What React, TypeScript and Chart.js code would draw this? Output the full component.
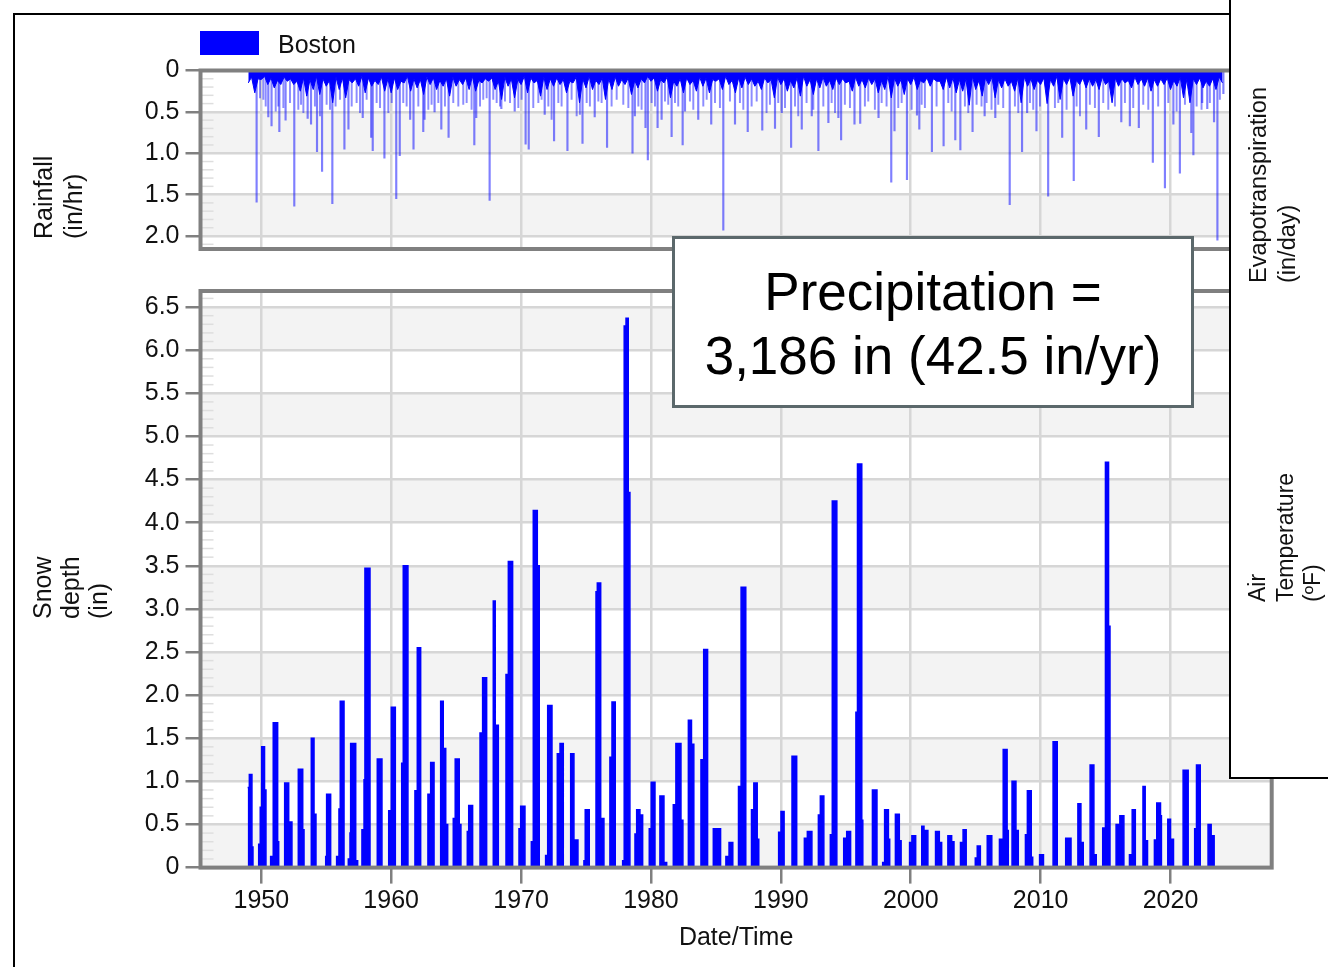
import React, { useEffect, useRef } from 'react';
import { Chart, registerables } from 'chart.js';

Chart.register(...registerables);

const W = 1328;
const H = 967;
const FONT = '"Liberation Sans", Arial, Helvetica, sans-serif';
Chart.defaults.font.family = FONT;

// ---------------- data ----------------
const decadeTicks = [1950, 1960, 1970, 1980, 1990, 2000, 2010, 2020];
const decadeLabels = ['1950', '1960', '1970', '1980', '1990', '2000', '2010', '2020'];
const rainTicks = [0, 0.5, 1.0, 1.5, 2.0];
const rainTickLabels = ['0', '0.5', '1.0', '1.5', '2.0'];
const snowTicks = [0, 0.5, 1, 1.5, 2, 2.5, 3, 3.5, 4, 4.5, 5, 5.5, 6, 6.5];
const snowTickLabels = ['0', '0.5', '1.0', '1.5', '2.0', '2.5', '3.0', '3.5', '4.0', '4.5', '5.0', '5.5', '6.0', '6.5'];
const rainBandStarts = [0.5, 1.5];
const snowBandStarts = [0, 1, 2, 3, 4, 5, 6];

// dense hourly-rainfall mass: deepest dark lines every half year (from 1949.0) ...
const rainMassStart = 1949.0;
const rainMassStep = 0.5;
const rainMassDepth = [
  0.15, 0.27, 0.11, 0.17, 0.21, 0.17, 0.13, 0.17, 0.25, 0.31, 0.23, 0.29, 0.19, 0.39, 0.23, 0.33, 0.15, 0.19, 0.27, 0.19,
  0.17, 0.25, 0.27, 0.23, 0.15, 0.25, 0.21, 0.29, 0.17, 0.23, 0.19, 0.31, 0.19, 0.17, 0.23, 0.25, 0.15, 0.13,
  0.23, 0.35, 0.19, 0.33, 0.17, 0.27, 0.15, 0.31, 0.23, 0.19, 0.17, 0.27, 0.15, 0.39, 0.21, 0.23, 0.17, 0.35,
  0.23, 0.19, 0.17, 0.29, 0.21, 0.15, 0.13, 0.25, 0.15, 0.33, 0.19, 0.27, 0.17, 0.25, 0.19, 0.27, 0.13, 0.23,
  0.17, 0.27, 0.21, 0.17, 0.19, 0.23, 0.15, 0.33, 0.17, 0.25, 0.21, 0.31, 0.19, 0.29, 0.21, 0.19, 0.23, 0.17,
  0.15, 0.25, 0.19, 0.21, 0.17, 0.27, 0.23, 0.33, 0.19, 0.29, 0.17, 0.23, 0.15, 0.19, 0.13, 0.23, 0.21, 0.27,
  0.25, 0.42, 0.23,
  0.31, 0.17, 0.33, 0.21, 0.19, 0.25, 0.39, 0.19, 0.23, 0.17, 0.40, 0.19, 0.35, 0.17, 0.31, 0.17, 0.21, 0.19,
  0.23, 0.17, 0.39, 0.19, 0.15, 0.21, 0.17, 0.19, 0.25, 0.19, 0.17, 0.23, 0.19, 0.33, 0.39, 0.17, 0.21, 0.19,
  0.23, 0.15,
];
// ... and the solid core between them (quarter-year offsets)
const rainCoreDepth = [
  0.08, 0.10, 0.07, 0.09, 0.12, 0.08, 0.10, 0.13, 0.09, 0.11,
  0.07, 0.10, 0.12, 0.08, 0.09, 0.11, 0.10, 0.07, 0.09, 0.12,
  0.08, 0.10, 0.09, 0.13, 0.07, 0.10, 0.11, 0.08, 0.09, 0.12,
  0.10, 0.08, 0.11, 0.09, 0.07, 0.12, 0.10, 0.09, 0.13, 0.08,
  0.10, 0.11, 0.07, 0.09, 0.12, 0.08, 0.10, 0.09, 0.11, 0.13,
  0.08, 0.10, 0.07, 0.12, 0.09, 0.10, 0.08, 0.11, 0.09, 0.12,
  0.10, 0.07, 0.09, 0.11, 0.08, 0.13, 0.10, 0.09, 0.12, 0.08,
  0.09, 0.11, 0.10, 0.07, 0.12, 0.09, 0.08, 0.10, 0.13, 0.09,
  0.11, 0.08, 0.10, 0.12, 0.09, 0.07, 0.11, 0.10, 0.08, 0.12,
  0.09, 0.10, 0.13, 0.08, 0.11, 0.09, 0.10, 0.12, 0.07, 0.09,
  0.11, 0.10, 0.08, 0.12, 0.09, 0.10, 0.13, 0.08, 0.09, 0.11,
  0.10, 0.07, 0.12, 0.09, 0.08, 0.11, 0.10, 0.13, 0.09, 0.08,
  0.10, 0.12, 0.09, 0.11, 0.07, 0.10, 0.08, 0.12, 0.09, 0.10,
  0.11, 0.08, 0.13, 0.09, 0.10, 0.12, 0.08, 0.10, 0.09, 0.11,
  0.10, 0.09, 0.12, 0.08, 0.11, 0.10, 0.09, 0.13, 0.10, 0.08,
];

// medium hourly peaks (light lines below the mass)
const rainMidYear = [
  1949.90, 1950.16, 1950.34, 1951.11, 1951.31, 1951.70, 1952.21, 1952.85, 1953.06, 1953.24, 1954.13, 1954.52,
  1955.03, 1955.29, 1955.72, 1956.06, 1956.96, 1957.34, 1957.60, 1958.11, 1958.88, 1959.14, 1959.78, 1960.04,
  1960.93, 1961.19, 1962.09, 1962.86, 1963.11, 1963.63, 1964.14, 1964.78, 1965.17, 1965.55, 1965.81, 1966.19,
  1966.84, 1967.09, 1967.35,
  1967.86, 1968.12, 1968.38, 1968.76, 1969.15, 1969.79, 1970.04, 1970.94, 1971.33, 1971.58, 1972.10, 1972.35,
  1972.87, 1973.12, 1973.89, 1974.28, 1974.53, 1975.05, 1975.30, 1975.95, 1976.20, 1976.97, 1977.36, 1977.87,
  1978.26, 1979.03, 1979.28, 1980.05, 1980.31, 1981.08, 1981.33, 1981.85, 1982.10, 1983.00, 1983.26, 1984.03,
  1984.29, 1984.93, 1985.31, 1986.08,
  1986.85, 1987.11, 1987.75, 1988.14, 1988.90, 1989.16, 1989.80, 1990.32, 1991.09, 1991.34, 1991.98, 1992.50,
  1993.27, 1993.91, 1994.17, 1994.93, 1995.32, 1996.47, 1996.73, 1997.24, 1997.76, 1998.14, 1999.04, 1999.30,
  2000.07, 2000.84, 2001.09, 2001.99, 2002.89, 2003.15, 2004.17, 2004.43, 2005.07,
  2005.45, 2005.84, 2006.22, 2006.74, 2007.12, 2008.02, 2008.28, 2009.18, 2009.43, 2009.95, 2011.10, 2011.36,
  2012.00, 2012.77, 2013.03, 2013.79, 2014.18, 2014.82, 2015.21, 2015.72, 2016.49, 2017.13, 2017.90, 2018.29,
  2019.05, 2019.83, 2020.47, 2021.11, 2022.01, 2022.39, 2023.03, 2023.80,
];
const rainMidDepth = [
  0.33, 0.35, 0.43, 0.49, 0.43, 0.45, 0.39, 0.47, 0.41, 0.51, 0.43, 0.55,
  0.41, 0.47, 0.43, 0.35, 0.43, 0.39, 0.51, 0.35, 0.39, 0.45, 0.51, 0.39,
  0.39, 0.43, 0.43, 0.47, 0.41, 0.39, 0.43, 0.39, 0.43, 0.41, 0.39, 0.47,
  0.43, 0.35, 0.33,
  0.35, 0.39, 0.43, 0.37, 0.39, 0.45, 0.35, 0.45, 0.39, 0.35, 0.43, 0.59,
  0.39, 0.43, 0.35, 0.55, 0.53, 0.39, 0.43, 0.37, 0.39, 0.43, 0.35, 0.41,
  0.45, 0.43, 0.47, 0.39, 0.43, 0.37, 0.41, 0.39, 0.43, 0.37, 0.47, 0.43,
  0.35, 0.39, 0.45, 0.37,
  0.39, 0.47, 0.43, 0.37, 0.51, 0.41, 0.39, 0.45, 0.43, 0.55, 0.39, 0.47,
  0.43, 0.39, 0.51, 0.41, 0.45, 0.43, 0.37, 0.47, 0.39, 0.43, 0.45, 0.39,
  0.47, 0.41, 0.45, 0.43, 0.39, 0.49, 0.43, 0.51, 0.41,
  0.43, 0.39, 0.47, 0.41, 0.45, 0.43, 0.51, 0.39, 0.47, 0.43, 0.45, 0.39,
  0.47, 0.43, 0.55, 0.41, 0.45, 0.39, 0.47, 0.43, 0.39, 0.45, 0.41, 0.47,
  0.43, 0.39, 0.49, 0.41, 0.43, 0.47, 0.39, 0.35,
];

// individual deep hourly peaks (year, in/hr)
const rainSpikeYear = [
  1949.64, 1950.54, 1950.79, 1951.39, 1951.87, 1952.54, 1953.57, 1953.83, 1954.29, 1954.68, 1955.47, 1956.40,
  1956.71, 1957.81, 1958.46, 1958.58, 1959.48, 1960.39, 1960.66, 1961.46, 1961.72, 1962.47, 1962.57, 1963.34,
  1963.86, 1964.42, 1966.40, 1966.55, 1967.58, 1968.48, 1969.51, 1970.35, 1970.59, 1971.82, 1972.54, 1973.57,
  1974.73, 1975.67, 1976.62, 1978.58, 1978.76, 1979.58, 1979.76, 1980.51, 1980.82, 1981.59, 1982.44, 1982.62,
  1983.64, 1984.64, 1985.57, 1986.47, 1987.45, 1988.57, 1989.55, 1990.07, 1990.79, 1991.61, 1992.38, 1992.89,
  1993.66, 1994.43, 1994.64, 1995.67, 1996.11, 1997.52, 1998.50, 1998.75, 1999.71, 2000.48, 2000.66, 2001.63,
  2002.53, 2003.43, 2003.82, 2004.76, 2005.69, 2006.51, 2007.62, 2008.57, 2008.96, 2009.68, 2010.58, 2011.66,
  2012.55, 2013.51, 2014.48, 2016.21, 2016.87, 2017.56, 2018.64, 2019.57, 2020.22, 2020.72, 2021.60, 2021.76,
  2022.44, 2022.83, 2023.35, 2023.61, 2024.07,
];
const rainSpikeDepth = [
  1.59, 0.56, 0.67, 0.74, 0.60, 1.64, 0.58, 0.65, 0.98, 1.22, 1.61, 0.95,
  0.71, 0.57, 0.81, 0.97, 1.06, 1.55, 1.03, 0.59, 0.95, 0.74, 0.59, 0.50,
  0.71, 0.81, 0.90, 0.57, 1.57, 0.46, 0.49, 0.89, 0.95, 0.53, 0.85, 0.97,
  0.88, 0.56, 0.93, 1.00, 0.55, 0.69, 1.08, 0.69, 0.59, 0.80, 0.90, 0.49,
  0.59, 0.65, 1.93, 0.65, 0.74, 0.72, 0.70, 0.51, 0.93, 0.71, 0.55, 0.97,
  0.63, 0.57, 0.84, 0.65, 0.64, 0.57, 1.35, 0.73, 1.32, 0.54, 0.71, 0.98,
  0.91, 0.84, 0.96, 0.74, 0.55, 0.57, 1.62, 0.98, 0.51, 0.73, 1.52, 0.81,
  1.33, 0.71, 0.80, 0.62, 0.67, 0.69, 1.11, 1.42, 0.65, 1.24, 0.75, 1.02,
  0.39, 0.46, 0.62, 2.05, 0.28,
];

// snow depth: [year where the step begins, depth in inches held until the next step]
const snowSteps: [number, number][] = [
  [1948.95, 0.93], [1949.08, 1.08], [1949.28, 0.24], [1949.36, 0],
  [1949.80, 0.27], [1949.92, 0.70], [1950.03, 1.40], [1950.25, 0.90], [1950.36, 0],
  [1950.72, 0.13], [1950.92, 1.68], [1951.26, 0.30], [1951.34, 0],
  [1951.80, 0.98], [1952.11, 0.53], [1952.36, 0],
  [1952.85, 1.14], [1953.19, 0.44], [1953.29, 0],
  [1953.85, 1.50], [1954.06, 0.62], [1954.21, 0],
  [1954.96, 0.13], [1955.03, 0.85], [1955.34, 0],
  [1955.80, 0.13], [1955.98, 0.68], [1956.08, 1.93], [1956.37, 0],
  [1956.70, 0.10], [1956.83, 0.40], [1956.88, 1.44], [1957.27, 0.08], [1957.42, 0],
  [1957.75, 0.44], [1957.91, 1.02], [1957.98, 3.47], [1958.37, 0],
  [1958.93, 1.26], [1959.29, 0],
  [1959.81, 0.66], [1960.01, 1.86], [1960.32, 0],
  [1960.81, 1.21], [1960.93, 3.50], [1961.29, 0],
  [1961.83, 0.89], [1962.01, 2.55], [1962.27, 0],
  [1962.83, 0.85], [1963.04, 1.22], [1963.30, 0],
  [1963.81, 1.93], [1964.01, 1.38], [1964.20, 0.50], [1964.35, 0],
  [1964.78, 0.57], [1964.93, 1.26], [1965.24, 0.50], [1965.37, 0],
  [1965.86, 0.42], [1965.97, 0.72], [1966.27, 0],
  [1966.84, 1.56], [1967.04, 2.20], [1967.35, 0],
  [1967.86, 3.09], [1968.01, 1.65], [1968.25, 0],
  [1968.84, 2.24], [1969.02, 3.55], [1969.35, 0],
  [1969.84, 0.45], [1969.97, 0.71], [1970.30, 0],
  [1970.79, 0.30], [1970.94, 4.14], [1971.25, 3.50], [1971.40, 0],
  [1971.89, 0.14], [1972.05, 1.88], [1972.38, 0],
  [1972.79, 1.32], [1973.00, 1.44], [1973.25, 0],
  [1973.82, 1.32], [1974.07, 0.32], [1974.38, 0],
  [1974.84, 0.08], [1974.94, 0.67], [1975.25, 0],
  [1975.77, 3.20], [1975.87, 3.30], [1976.13, 0.57], [1976.38, 0],
  [1976.84, 1.28], [1977.00, 1.92], [1977.25, 0],
  [1977.82, 0.08], [1977.94, 6.28], [1978.08, 6.37], [1978.25, 4.35], [1978.38, 0],
  [1978.77, 0.39], [1978.90, 0.67], [1979.15, 0.61], [1979.36, 0],
  [1979.87, 0.45], [1980.02, 0.99], [1980.31, 0],
  [1980.69, 0.83], [1981.00, 0.06], [1981.21, 0],
  [1981.72, 0.73], [1981.92, 1.44], [1982.31, 0.55], [1982.46, 0],
  [1982.88, 1.71], [1983.12, 1.43], [1983.30, 0],
  [1983.85, 1.25], [1984.06, 2.53], [1984.36, 0],
  [1984.80, 0.45], [1985.36, 0],
  [1985.77, 0.13], [1986.01, 0.29], [1986.30, 0],
  [1986.74, 0.94], [1986.94, 3.25], [1987.30, 0],
  [1987.74, 0.67], [1987.92, 0.98], [1988.18, 0.33], [1988.30, 0],
  [1989.83, 0.41], [1990.01, 0.65], [1990.25, 0],
  [1990.86, 1.29], [1991.22, 0],
  [1991.81, 0.34], [1992.04, 0.42], [1992.39, 0],
  [1992.89, 0.61], [1993.04, 0.83], [1993.31, 0],
  [1993.81, 0.38], [1993.96, 4.25], [1994.31, 0],
  [1994.84, 0.34], [1995.07, 0.42], [1995.37, 0],
  [1995.78, 1.80], [1995.90, 4.68], [1996.23, 0.55], [1996.31, 0],
  [1997.05, 0.90], [1997.40, 0],
  [1997.84, 0.06], [1997.99, 0.67], [1998.28, 0.33], [1998.38, 0],
  [1998.82, 0.62], [1999.12, 0.31], [1999.26, 0],
  [1999.91, 0.29], [2000.09, 0.37], [2000.38, 0],
  [2000.85, 0.48], [2001.02, 0.43], [2001.32, 0],
  [2001.91, 0.42], [2002.20, 0.29], [2002.38, 0],
  [2002.86, 0.37], [2003.15, 0.30], [2003.33, 0],
  [2003.83, 0.29], [2004.03, 0.44], [2004.27, 0],
  [2004.97, 0.11], [2005.12, 0.25], [2005.36, 0],
  [2005.89, 0.37], [2006.24, 0],
  [2006.83, 0.33], [2007.12, 1.37], [2007.42, 0.43], [2007.51, 0],
  [2007.80, 1.00], [2008.10, 0.43], [2008.28, 0],
  [2008.83, 0.38], [2008.98, 0.89], [2009.28, 0.12], [2009.39, 0],
  [2009.92, 0.15], [2010.22, 0],
  [2010.96, 1.46], [2011.28, 0],
  [2011.93, 0.34], [2012.34, 0],
  [2012.87, 0.74], [2013.10, 0.29], [2013.28, 0],
  [2013.81, 1.19], [2014.10, 0.15], [2014.28, 0],
  [2014.78, 0.46], [2014.99, 4.70], [2015.23, 2.80], [2015.34, 0],
  [2015.81, 0.50], [2016.10, 0.60], [2016.41, 0],
  [2016.84, 0.15], [2017.05, 0.67], [2017.29, 0],
  [2017.88, 0.94], [2018.05, 0.31], [2018.23, 0],
  [2018.76, 0.32], [2018.94, 0.75], [2019.23, 0.60], [2019.30, 0],
  [2019.79, 0.56], [2020.00, 0.33], [2020.23, 0],
  [2020.97, 1.13], [2021.36, 0],
  [2021.86, 0.45], [2022.00, 1.19], [2022.29, 0],
  [2022.89, 0.50], [2023.13, 0.37], [2023.36, 0],
];

// ---------------- styling ----------------
const X_MIN = 1945.32;
const X_MAX = 2027.79;
const GRID = '#d6d6d6';
const AXIS = '#808080';
const BAND = '#f3f3f3';
const BLUE = '#0000ff';
const TEXT = '#111111';
const MINOR = '#dedede';

function makeBands(starts: number[], width: number, color: string) {
  return {
    id: 'bands',
    beforeDraw(chart: any) {
      const { ctx, chartArea: a, scales } = chart;
      const y = scales.y;
      ctx.save();
      ctx.fillStyle = color;
      for (const s of starts) {
        const p1 = y.getPixelForValue(s);
        const p2 = y.getPixelForValue(Math.min(s + width, y.max));
        ctx.fillRect(a.left, Math.min(p1, p2), a.right - a.left, Math.abs(p2 - p1));
      }
      ctx.restore();
    },
  };
}

function makeMinor(step: number, every: number, len: number, color: string) {
  return {
    id: 'minor',
    beforeDatasetsDraw(chart: any) {
      const { ctx, chartArea: a, scales } = chart;
      const y = scales.y;
      ctx.save();
      ctx.strokeStyle = color;
      ctx.lineWidth = 1.5;
      const n = Math.floor(y.max / step + 1e-6);
      for (let i = 1; i <= n; i++) {
        if (i % every === 0) continue;
        const py = y.getPixelForValue(i * step);
        ctx.beginPath();
        ctx.moveTo(a.left, py);
        ctx.lineTo(a.left + len, py);
        ctx.stroke();
      }
      ctx.restore();
    },
  };
}

const framePlugin = {
  id: 'frame',
  afterDatasetsDraw(chart: any) {
    const { ctx, chartArea: a } = chart;
    ctx.save();
    ctx.strokeStyle = AXIS;
    ctx.lineWidth = 4;
    ctx.strokeRect(a.left, a.top, a.right - a.left, a.bottom - a.top);
    ctx.restore();
  },
};

const tickFont = { family: FONT, size: 25 };

function massPoints() {
  const pts: { x: number; y: number }[] = [];
  rainMassDepth.forEach((d, i) => {
    const x = rainMassStart + i * rainMassStep;
    pts.push({ x, y: d });
    if (i < rainCoreDepth.length) pts.push({ x: x + rainMassStep / 2, y: rainCoreDepth[i] });
  });
  return pts;
}

function rainConfig(): any {
  return {
    type: 'line',
    data: {
      datasets: [
        {
          type: 'line',
          data: massPoints(),
          fill: 'origin',
          backgroundColor: BLUE,
          borderColor: BLUE,
          borderWidth: 1,
          pointRadius: 0,
          tension: 0,
          order: 3,
        },
        {
          type: 'bar',
          data: rainMidYear.map((x, i) => ({ x, y: rainMidDepth[i] })),
          backgroundColor: 'rgba(0,0,255,0.45)',
          borderWidth: 0,
          barThickness: 1.3,
          grouped: false,
          order: 2,
        },
        {
          type: 'bar',
          data: rainSpikeYear.map((x, i) => ({ x, y: rainSpikeDepth[i] })),
          backgroundColor: 'rgba(0,0,255,0.5)',
          borderWidth: 0,
          barThickness: 1.5,
          grouped: false,
          order: 1,
        },
      ],
    },
    options: {
      responsive: false,
      animation: false,
      devicePixelRatio: 1,
      events: [],
      layout: { padding: { top: 70.5, right: 56.3, bottom: 16.7, left: 0 } },
      plugins: { legend: { display: false }, tooltip: { enabled: false } },
      scales: {
        x: {
          type: 'linear',
          min: X_MIN,
          max: X_MAX,
          offset: false,
          afterBuildTicks: (s: any) => { s.ticks = decadeTicks.map((v) => ({ value: v })); },
          afterFit: (s: any) => { s.height = 0; },
          ticks: { display: false },
          grid: { color: GRID, lineWidth: 2.5, drawTicks: false, offset: false },
          border: { display: false },
        },
        y: {
          type: 'linear',
          reverse: true,
          min: 0,
          max: 2.157,
          afterBuildTicks: (s: any) => { s.ticks = rainTicks.map((v) => ({ value: v })); },
          afterFit: (s: any) => { s.width = 200.5; },
          ticks: { callback: (_v: any, i: number) => rainTickLabels[i], font: tickFont, color: TEXT, padding: 6 },
          grid: { color: GRID, lineWidth: 2.5, tickColor: AXIS, tickWidth: 2.5, tickLength: 15 },
          border: { display: false },
        },
      },
    },
    plugins: [makeBands(rainBandStarts, 0.5, BAND), makeMinor(0.1, 5, 13, MINOR), framePlugin],
  };
}

function snowConfig(): any {
  return {
    type: 'line',
    data: {
      datasets: [
        {
          data: snowSteps.map(([x, y]) => ({ x, y })),
          stepped: true,
          fill: 'origin',
          backgroundColor: BLUE,
          borderColor: BLUE,
          borderWidth: 1.5,
          pointRadius: 0,
        },
      ],
    },
    options: {
      responsive: false,
      animation: false,
      devicePixelRatio: 1,
      events: [],
      layout: { padding: { top: 18.2, right: 56.3, bottom: 0, left: 0 } },
      plugins: { legend: { display: false }, tooltip: { enabled: false } },
      scales: {
        x: {
          type: 'linear',
          min: X_MIN,
          max: X_MAX,
          offset: false,
          afterBuildTicks: (s: any) => { s.ticks = decadeTicks.map((v) => ({ value: v })); },
          afterFit: (s: any) => { s.height = 99.4; },
          ticks: { callback: (_v: any, i: number) => decadeLabels[i], font: tickFont, color: TEXT, padding: 3, maxRotation: 0 },
          grid: { color: GRID, lineWidth: 2.5, tickColor: AXIS, tickWidth: 2.5, tickLength: 16, offset: false },
          border: { display: false },
          title: { display: true, text: 'Date/Time', font: { family: FONT, size: 25 }, color: TEXT, padding: { top: 0, bottom: 14 } },
        },
        y: {
          type: 'linear',
          min: 0,
          max: 6.686,
          afterBuildTicks: (s: any) => { s.ticks = snowTicks.map((v) => ({ value: v })); },
          afterFit: (s: any) => { s.width = 200.5; },
          ticks: { callback: (_v: any, i: number) => snowTickLabels[i], font: tickFont, color: TEXT, padding: 6 },
          grid: { color: GRID, lineWidth: 2.5, tickColor: AXIS, tickWidth: 2.5, tickLength: 15 },
          border: { display: false },
        },
      },
    },
    plugins: [makeBands(snowBandStarts, 0.5, BAND), makeMinor(0.1, 5, 13, MINOR), framePlugin],
  };
}

function ChartCanvas({ top, height, make }: { top: number; height: number; make: () => any }) {
  const ref = useRef<HTMLCanvasElement>(null);
  useEffect(() => {
    const chart = new Chart(ref.current as HTMLCanvasElement, make());
    return () => chart.destroy();
  }, []);
  return (
    <canvas
      ref={ref}
      width={W}
      height={height}
      style={{ position: 'absolute', left: 0, top, width: W, height }}
    />
  );
}

function RotText({ left, bottom, lines, fs, lh, height = 300 }: { left: number; bottom: number; lines: string[]; fs: number; lh: number; height?: number }) {
  return (
    <div
      style={{
        position: 'absolute',
        left,
        top: bottom - height,
        width: lines.length * lh,
        height,
        writingMode: 'vertical-rl',
        transform: 'rotate(180deg)',
        fontSize: fs,
        lineHeight: lh + 'px',
        textAlign: 'start',
        whiteSpace: 'nowrap',
        color: TEXT,
        fontFamily: FONT,
      }}
    >
      {lines.map((l, i) => (
        <div key={i}>{l}</div>
      ))}
    </div>
  );
}

export default function App() {
  return (
    <div style={{ position: 'absolute', left: 0, top: 0, width: W, height: H, overflow: 'hidden', background: '#fff', fontFamily: FONT }}>
      <ChartCanvas top={0} height={270} make={rainConfig} />
      <ChartCanvas top={270} height={697} make={snowConfig} />

      {/* outer frame of the slide */}
      <div style={{ position: 'absolute', left: 12.5, top: 12.5, width: 1300, height: 1000, borderTop: '2px solid #000', borderLeft: '2px solid #000' }} />

      {/* legend */}
      <div style={{ position: 'absolute', left: 200, top: 31, width: 59, height: 24, background: BLUE }} />
      <div style={{ position: 'absolute', left: 278, top: 29, fontSize: 25, lineHeight: '30px', color: TEXT, whiteSpace: 'nowrap' }}>Boston</div>

      {/* axis titles */}
      <RotText left={27.5} bottom={238.5} lines={['Rainfall', '(in/hr)']} fs={25} lh={30} />
      <RotText left={28} bottom={619} lines={['Snow', 'depth', '(in)']} fs={25} lh={28} />

      {/* annotation box */}
      <div
        style={{
          position: 'absolute', left: 672, top: 236, width: 522, height: 172, boxSizing: 'border-box',
          border: '3px solid #5b686b', background: '#fff', display: 'flex', flexDirection: 'column',
          justifyContent: 'center', alignItems: 'center', fontSize: 53, lineHeight: '64px', color: '#000',
          whiteSpace: 'nowrap', paddingTop: 4,
        }}
      >
        <div>Precipitation =</div>
        <div>3,186 in (42.5 in/yr)</div>
      </div>

      {/* right side panel */}
      <div style={{ position: 'absolute', left: 1229, top: -4, width: 120, height: 783, boxSizing: 'border-box', border: '2px solid #000', background: '#fff' }} />
      <RotText left={1244} bottom={283} lines={['Evapotranspiration', '(in/day)']} fs={23.5} lh={29} />
      <RotText left={1244} bottom={602} lines={['Air', 'Temperature', '(ºF)']} fs={23} lh={27.5} />
    </div>
  );
}
